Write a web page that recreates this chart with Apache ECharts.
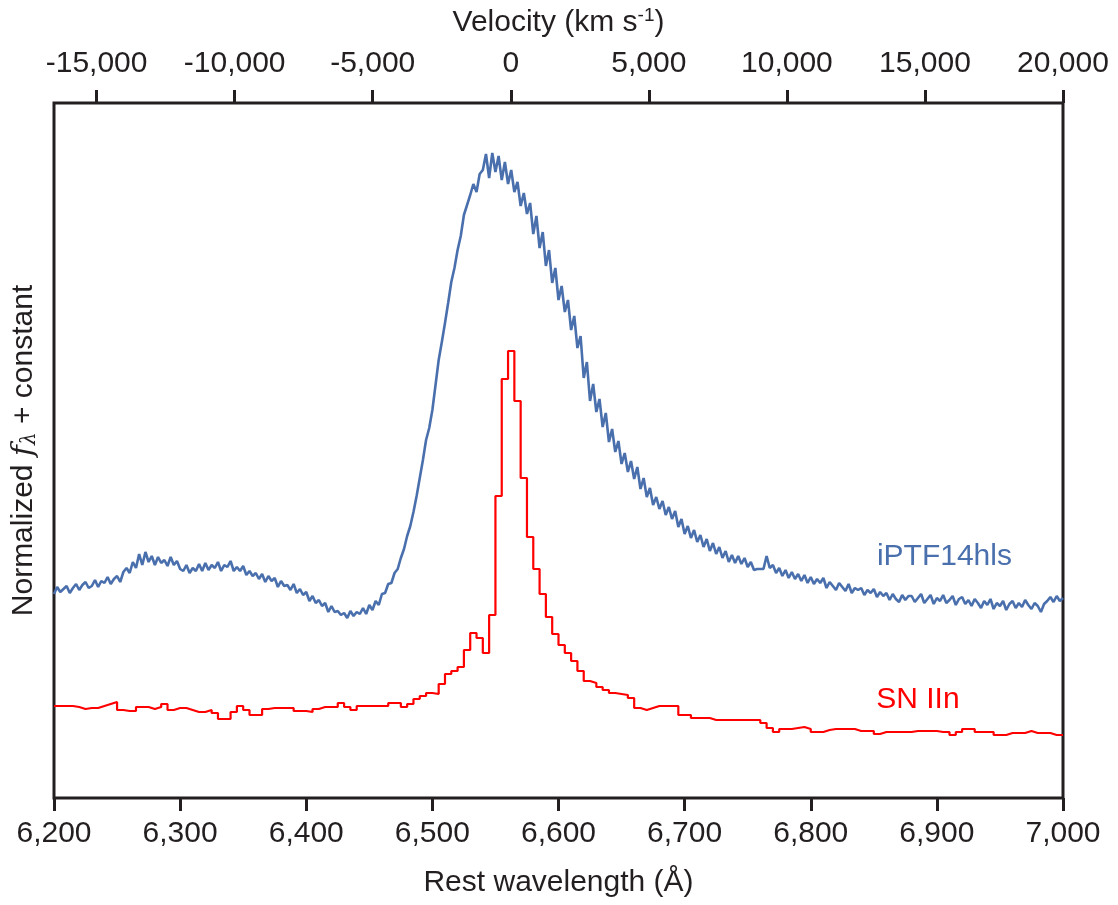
<!DOCTYPE html>
<html><head><meta charset="utf-8">
<script src="https://cdn.jsdelivr.net/npm/echarts@6/dist/echarts.min.js"></script>
<style>html,body{margin:0;padding:0;background:#fff}#c{width:1118px;height:905px}</style>
</head><body><div id="c"></div><script>
// ---- data ----
const wavelengthMin = 6200, wavelengthMax = 7000, wavelengthInterval = 100;
const velocityTicks = [-15000, -10000, -5000, 0, 5000, 10000, 15000, 20000];
const velocityMin = -16543, velocityMax = 20000;

// iPTF14hls spectrum: sampled every 2.5 A from 6200 A (normalized flux + constant)
const iptfStart = 6200, iptfStep = 2.5;
const iptfFlux = [
 2.04,2.11,2.06,2.09,2.12,2.05,2.10,2.14,2.08,2.13,2.16,2.10,2.12,2.18,2.11,2.17,
 2.15,2.21,2.14,2.19,2.22,2.16,2.26,2.30,2.25,2.36,2.30,2.44,2.33,2.46,2.36,2.42,
 2.33,2.41,2.35,2.38,2.32,2.41,2.33,2.37,2.29,2.27,2.33,2.25,2.30,2.27,2.34,2.27,
 2.35,2.28,2.33,2.30,2.36,2.27,2.33,2.31,2.37,2.27,2.31,2.27,2.32,2.23,2.27,2.22,
 2.25,2.19,2.24,2.16,2.22,2.17,2.20,2.11,2.17,2.12,2.13,2.08,2.14,2.05,2.09,2.03,
 2.06,1.97,2.02,1.95,1.98,1.92,1.95,1.86,1.92,1.86,1.87,1.83,1.85,1.80,1.87,1.82,
 1.86,1.84,1.90,1.84,1.93,1.88,1.97,1.93,2.04,2.05,2.14,2.15,2.25,2.29,2.40,2.49,
 2.62,2.72,2.86,3.02,3.20,3.38,3.58,3.70,3.88,4.13,4.38,4.56,4.75,4.95,5.16,5.30,
 5.48,5.62,5.83,5.93,6.03,6.14,6.06,6.24,6.28,6.44,6.20,6.45,6.26,6.42,6.18,6.36,
 6.14,6.28,6.06,6.16,5.92,6.05,5.84,5.95,5.64,5.82,5.50,5.66,5.32,5.48,5.15,5.30,
 4.98,5.12,4.86,4.98,4.68,4.82,4.50,4.62,4.20,4.36,3.97,4.14,3.86,3.99,3.71,3.85,
 3.56,3.69,3.46,3.57,3.34,3.45,3.26,3.37,3.19,3.31,3.09,3.20,3.01,3.10,2.93,3.01,
 2.89,2.97,2.83,2.91,2.79,2.87,2.71,2.79,2.64,2.72,2.60,2.68,2.56,2.63,2.51,2.59,
 2.47,2.55,2.44,2.51,2.40,2.47,2.36,2.43,2.35,2.42,2.34,2.40,2.31,2.36,2.28,2.29,
 2.29,2.29,2.42,2.30,2.33,2.25,2.30,2.22,2.28,2.20,2.26,2.19,2.24,2.17,2.23,2.15,
 2.21,2.14,2.19,2.15,2.20,2.10,2.16,2.12,2.08,2.15,2.11,2.07,2.14,2.05,2.10,2.08,
 2.10,2.03,2.08,2.05,2.09,2.01,2.06,2.02,2.05,1.98,2.04,1.99,1.96,2.03,1.98,2.02,
 2.02,1.96,2.00,2.04,1.95,1.99,2.03,1.94,2.00,1.97,2.03,1.95,1.98,2.02,1.93,1.99,
 2.01,1.94,1.98,1.92,1.99,1.95,1.90,1.97,1.93,1.99,1.89,1.95,1.92,1.97,1.88,1.94,
 1.97,1.90,1.95,1.91,1.98,1.93,1.89,1.95,1.92,1.86,1.94,1.97,2.01,1.96,2.02,1.97,
 2.00
];

// SN IIn spectrum: 5 A bins starting at 6200 A (last value closes the final bin at 7000 A)
const sniinStart = 6200, sniinStep = 5;
const sniinFlux = [
 0.92,0.92,0.92,0.91,0.89,0.90,0.90,0.92,0.94,0.96,
 0.88,0.87,0.87,0.91,0.91,0.89,0.91,0.94,0.88,0.90,
 0.90,0.88,0.86,0.86,0.88,0.85,0.79,0.79,0.86,0.92,
 0.88,0.83,0.83,0.89,0.90,0.90,0.90,0.90,0.87,0.87,
 0.86,0.89,0.91,0.91,0.91,0.95,0.91,0.88,0.92,0.92,
 0.92,0.92,0.92,0.95,0.95,0.91,0.94,0.99,1.02,1.05,
 1.04,1.14,1.24,1.27,1.31,1.48,1.65,1.60,1.45,1.83,
 3.02,4.19,4.47,3.97,3.20,2.61,2.29,2.04,1.81,1.64,
 1.53,1.45,1.37,1.27,1.17,1.15,1.11,1.08,1.05,1.04,
 1.03,1.00,0.90,0.88,0.90,0.92,0.92,0.92,0.92,0.83,
 0.83,0.80,0.80,0.80,0.78,0.78,0.78,0.78,0.78,0.78,
 0.78,0.78,0.75,0.70,0.66,0.69,0.69,0.70,0.71,0.69,
 0.66,0.66,0.68,0.69,0.69,0.69,0.69,0.67,0.67,0.67,
 0.64,0.66,0.66,0.66,0.66,0.66,0.67,0.67,0.67,0.67,
 0.66,0.66,0.63,0.66,0.69,0.69,0.66,0.66,0.66,0.63,
 0.63,0.65,0.65,0.65,0.67,0.65,0.65,0.65,0.63,0.63,
 0.63
];

const seriesNames = ['iPTF14hls', 'SN IIn'];
const labelAnchors = [[6906, 2.41], [6885, 0.98]];
const yMin = 0, yMax = 6.95;

// ---- chart ----
const BLUE = '#4a6fad', RED = '#ff0000', INK = '#231f20';
const FONT = 'Liberation Sans, Arial, Helvetica, sans-serif';
const withCommas = v => {
  const s = Math.abs(v).toString().replace(/\B(?=(\d{3})+(?!\d))/g, ',');
  return (v < 0 ? '-' : '') + s;
};
const iptfData = iptfFlux.map((v, i) => [iptfStart + i * iptfStep, v]);
const sniinData = sniinFlux.map((v, i) => [sniinStart + i * sniinStep, v]);

const chart = echarts.init(document.getElementById('c'), null, {renderer: 'canvas'});
chart.setOption({
  animation: false,
  backgroundColor: '#fff',
  grid: {left: 54, right: 55, top: 103, bottom: 107, show: true,
         borderColor: INK, borderWidth: 3, backgroundColor: 'transparent'},
  xAxis: [{
    type: 'value', position: 'bottom', min: wavelengthMin, max: wavelengthMax, interval: wavelengthInterval,
    axisLine: {show: false}, splitLine: {show: false},
    axisTick: {show: true, inside: false, length: 13, lineStyle: {color: INK, width: 3}},
    axisLabel: {show: true, margin: 21, fontSize: 30, color: INK, fontFamily: FONT, formatter: withCommas},
    name: 'Rest wavelength (Å)', nameLocation: 'middle', nameGap: 70,
    nameTextStyle: {fontSize: 30, color: INK, fontFamily: FONT}
  }, {
    type: 'value', position: 'top', min: velocityMin, max: velocityMax,
    axisLine: {show: false}, splitLine: {show: false},
    axisTick: {show: true, inside: false, length: 13, lineStyle: {color: INK, width: 3}, customValues: velocityTicks},
    axisLabel: {show: true, margin: 24, fontSize: 30, color: INK, fontFamily: FONT, formatter: withCommas, customValues: velocityTicks},
    name: 'Velocity (km s{sup|-1})', nameLocation: 'middle', nameGap: 64,
    nameTextStyle: {fontSize: 30, color: INK, fontFamily: FONT,
      rich: {sup: {fontSize: 19, color: INK, fontFamily: FONT, verticalAlign: 'top', padding: [0, 0, 14, 0]}}}
  }],
  yAxis: [{
    type: 'value', min: yMin, max: yMax,
    axisLine: {show: false}, axisTick: {show: false}, axisLabel: {show: false}, splitLine: {show: false},
    name: 'Normalized {f|f}{l|λ} + constant', nameLocation: 'middle', nameRotate: 90, nameGap: 14,
    nameTextStyle: {fontSize: 30, color: INK, fontFamily: FONT,
      rich: {
        f: {fontSize: 30, color: INK, fontFamily: 'DejaVu Serif', fontStyle: 'italic'},
        l: {fontSize: 20, color: INK, fontFamily: 'DejaVu Serif', fontStyle: 'italic', padding: [12, 0, 0, 0]}
      }}
  }],
  series: [{
    name: seriesNames[0], type: 'line', data: iptfData, xAxisIndex: 0, yAxisIndex: 0,
    showSymbol: false, symbol: 'none', z: 3,
    lineStyle: {color: BLUE, width: 2.6},
    markPoint: {symbol: 'circle', symbolSize: 0, silent: true,
      label: {show: true, position: 'inside', formatter: seriesNames[0], fontSize: 30, color: BLUE, fontFamily: FONT},
      data: [{coord: labelAnchors[0]}]}
  }, {
    name: seriesNames[1], type: 'line', data: sniinData, step: 'end', xAxisIndex: 0, yAxisIndex: 0,
    showSymbol: false, symbol: 'none', z: 2,
    lineStyle: {color: RED, width: 2.2},
    markPoint: {symbol: 'circle', symbolSize: 0, silent: true,
      label: {show: true, position: 'inside', formatter: seriesNames[1], fontSize: 30, color: RED, fontFamily: FONT},
      data: [{coord: labelAnchors[1]}]}
  }]
});
</script></body></html>
